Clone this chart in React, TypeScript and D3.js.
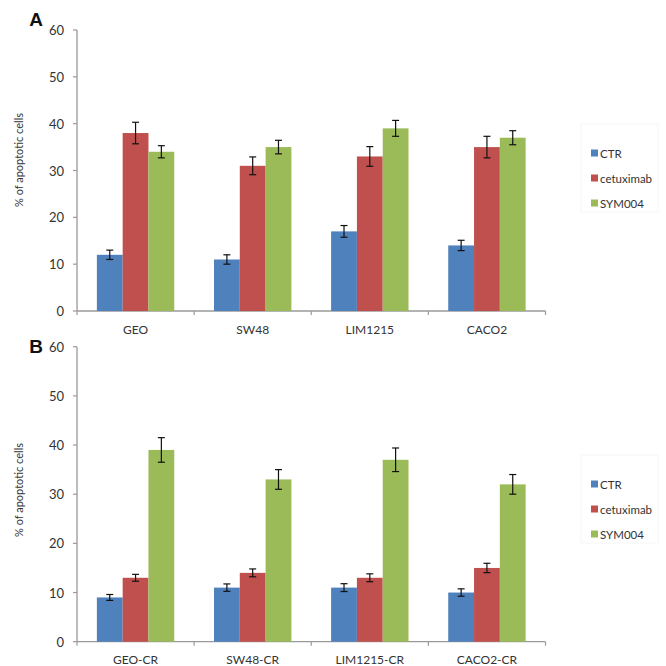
import React from "react";
import * as d3 from "d3";

const seriesNames = ["CTR", "cetuximab", "SYM004"];
const seriesColors = ["#4F81BD", "#C0504D", "#9BBB59"];
const yTicks = [0, 10, 20, 30, 40, 50, 60];

const catsA = ["GEO", "SW48", "LIM1215", "CACO2"];
const ctrA = [12, 11, 17, 14];
const cetA = [38, 31, 33, 35];
const symA = [34, 35, 39, 37];
const ctrErrA = [1.0, 1.0, 1.25, 1.1];
const cetErrA = [2.3, 1.9, 2.1, 2.3];
const symErrA = [1.3, 1.45, 1.7, 1.5];

const catsB = ["GEO-CR", "SW48-CR", "LIM1215-CR", "CACO2-CR"];
const ctrB = [9, 11, 11, 10];
const cetB = [13, 14, 13, 15];
const symB = [39, 33, 37, 32];
const ctrErrB = [0.6, 0.75, 0.8, 0.75];
const cetErrB = [0.7, 0.8, 0.8, 0.95];
const symErrB = [2.5, 2.0, 2.4, 2.0];

const FONT = "Lato, 'Open Sans', sans-serif";

type PanelProps = {
  letter: string;
  cats: string[];
  values: number[][];
  errors: number[][];
  top: number;
  bottom: number;
  letterY: number;
  legendY: number;
  titleY: number;
};

function Panel({ letter, cats, values, errors, top, bottom, letterY, legendY, titleY }: PanelProps) {
  const left = 77;
  const right = 545.5;
  const y = d3.scaleLinear().domain([0, 60]).range([bottom, top]);
  const x = d3.scaleBand<string>().domain(cats).range([left, right]).paddingInner(0).paddingOuter(0);
  const xs = d3
    .scaleBand<string>()
    .domain(seriesNames)
    .range([0, x.bandwidth()])
    .paddingInner(0)
    .paddingOuter(0.77);
  const bw = xs.bandwidth();
  const axisColor = "#9a9a9a";
  const textColor = "#333";

  return (
    <g>
      <text x={36} y={letterY} fontFamily="Arial, 'Liberation Sans', sans-serif" fontWeight="bold" fontSize={19} textAnchor="middle" dominantBaseline="central" fill="#111">
        {letter}
      </text>
      <text
        transform={`translate(18,${titleY}) rotate(-90)`}
        fontFamily={FONT}
        fontSize={11}
        fill={textColor}
        textAnchor="middle"
        dominantBaseline="central"
      >
        % of apoptotic cells
      </text>
      {/* y axis */}
      <line x1={left} x2={left} y1={y(60)} y2={y(0)} stroke={axisColor} strokeWidth={1.3} />
      {yTicks.map((t) => (
        <g key={t}>
          <line x1={left - 4} x2={left} y1={y(t)} y2={y(t)} stroke={axisColor} strokeWidth={1.2} />
          <text x={64} y={y(t)} fontFamily={FONT} fontSize={13} fill={textColor} textAnchor="end" dominantBaseline="central">
            {t}
          </text>
        </g>
      ))}
      {/* x axis */}
      <line x1={left} x2={right} y1={y(0)} y2={y(0)} stroke={axisColor} strokeWidth={1.3} />
      {[...cats.map((c) => x(c) as number), right].map((v, i) => (
        <line key={i} x1={v} x2={v} y1={y(0)} y2={y(0) + 4} stroke={axisColor} strokeWidth={1.2} />
      ))}
      {cats.map((c) => (
        <text
          key={c}
          x={(x(c) as number) + x.bandwidth() / 2}
          y={y(0) + 18}
          fontFamily={FONT}
          fontSize={12}
          fill={textColor}
          textAnchor="middle"
          dominantBaseline="central"
        >
          {c}
        </text>
      ))}
      {/* bars */}
      {cats.map((c, ci) =>
        seriesNames.map((s, si) => {
          const v = values[si][ci];
          const e = errors[si][ci];
          const bx = (x(c) as number) + (xs(s) as number);
          const cx = bx + bw / 2;
          return (
            <g key={c + s}>
              <rect x={bx} y={y(v)} width={bw} height={y(0) - y(v)} fill={seriesColors[si]} />
              <line x1={cx} x2={cx} y1={y(v + e)} y2={y(v - e)} stroke="#111" strokeWidth={1.2} />
              <line x1={cx - 3.5} x2={cx + 3.5} y1={y(v + e)} y2={y(v + e)} stroke="#111" strokeWidth={1.2} />
              <line x1={cx - 3.5} x2={cx + 3.5} y1={y(v - e)} y2={y(v - e)} stroke="#111" strokeWidth={1.2} />
            </g>
          );
        })
      )}
      {/* legend */}
      <rect x={581} y={legendY - 29} width={77} height={88} fill="none" stroke="#f6f6f6" strokeWidth={1} />
      {seriesNames.map((s, si) => (
        <g key={s}>
          <rect x={591} y={legendY + si * 25 - 3.5} width={7} height={7} fill={seriesColors[si]} />
          <text x={600} y={legendY + si * 25} fontFamily={FONT} fontSize={11.5} fill={textColor} dominantBaseline="central">
            {s}
          </text>
        </g>
      ))}
    </g>
  );
}

export default function App() {
  return (
    <svg width={666} height={666} style={{ position: "absolute", left: 0, top: 0, background: "#fff" }}>
      <rect x={0} y={0} width={666} height={666} fill="#fff" />
      <Panel
        letter="A"
        cats={catsA}
        values={[ctrA, cetA, symA]}
        errors={[ctrErrA, cetErrA, symErrA]}
        top={30}
        bottom={311}
        letterY={19}
        legendY={153}
        titleY={160}
      />
      <Panel
        letter="B"
        cats={catsB}
        values={[ctrB, cetB, symB]}
        errors={[ctrErrB, cetErrB, symErrB]}
        top={346.7}
        bottom={641.7}
        letterY={346}
        legendY={484}
        titleY={490}
      />
    </svg>
  );
}
